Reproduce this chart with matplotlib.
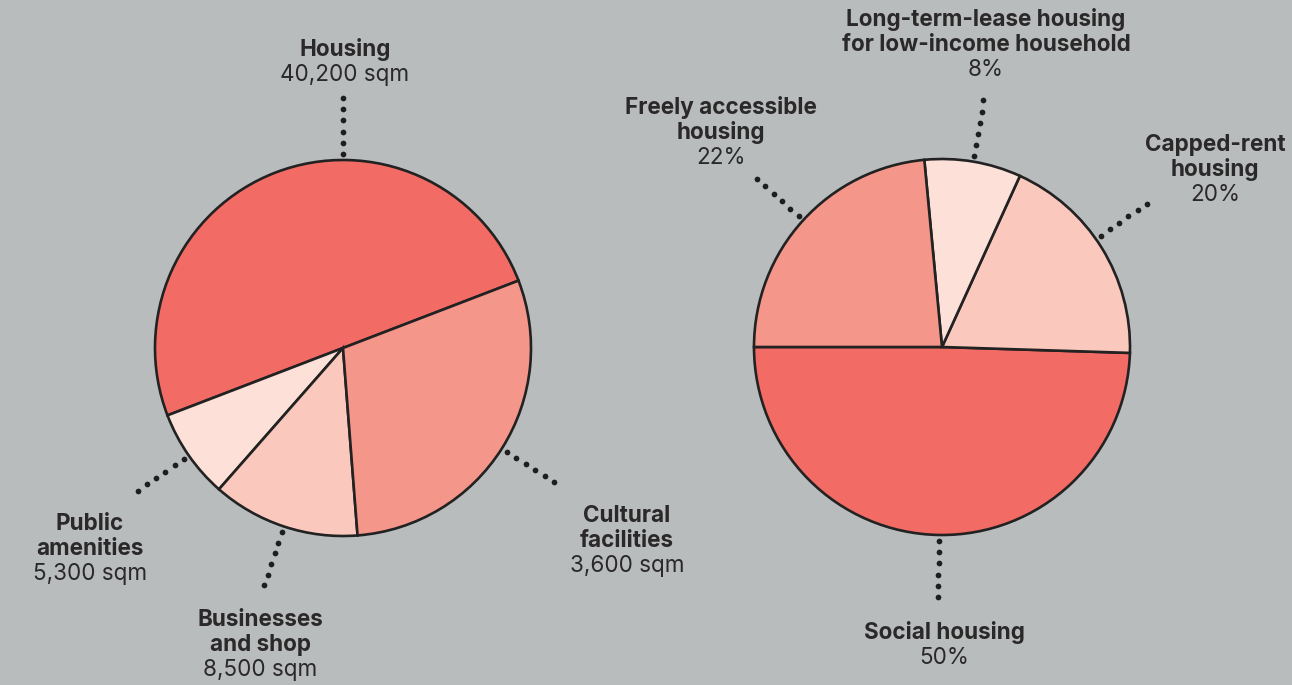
import numpy as np
import matplotlib.pyplot as plt

# Datos del grafico izquierdo (superficies) y derecho (tipos de vivienda)
usos_nombres = ['Housing', 'Public\namenities', 'Businesses\nand shop', 'Cultural\nfacilities']
usos_textos = ['40,200 sqm', '5,300 sqm', '8,500 sqm', '3,600 sqm']
usos_partes = [50.0, 7.7, 12.7, 29.6]
usos_colores = ['#f26b64', '#fde0d8', '#fac8bd', '#f5968a']

vivienda_nombres = ['Social housing', 'Capped-rent\nhousing',
                    'Long-term-lease housing\nfor low-income household',
                    'Freely accessible\nhousing']
vivienda_pct = [50, 20, 8, 22]
vivienda_partes = [49.5, 18.7, 8.3, 23.5]   # tamaño de los sectores tal como se ven
vivienda_colores = ['#f26b64', '#fac8bd', '#fde0d8', '#f5968a']

FONDO = '#b9bcbd'
TINTA = '#2a2828'
ALTO = 685
RADIO = 188
SALTO = 25  # separacion entre lineas de texto (px)
TAM = 16.2

plt.rcParams['font.family'] = ['Inter', 'DejaVu Sans']

fig = plt.figure(figsize=(12.92, 6.85), dpi=100, facecolor=FONDO)
ax = fig.add_axes([0, 0, 1, 1])
ax.set_facecolor(FONDO)


def dibujar_torta(centro, valores, colores, inicio):
    cuñas, _ = ax.pie(valores, colors=colores, startangle=inicio, counterclock=True,
                      center=centro, radius=RADIO,
                      wedgeprops=dict(edgecolor='#222222', linewidth=1.9))
    return cuñas


def puntos_guia(centro, angulo):
    r = np.linspace(194, 250, 6)
    a = np.deg2rad(angulo)
    ax.scatter(centro[0] + r * np.cos(a), centro[1] + r * np.sin(a),
               s=17, color='#1e1e1e', zorder=5, linewidths=0)


def etiqueta(x, y_base, nombre, valor):
    # y_base: linea base del valor, medida desde arriba de la imagen
    lineas = nombre.split('\n')
    for i, linea in enumerate(lineas):
        y = y_base - SALTO * (len(lineas) - i)
        ax.text(x, ALTO - y, linea, ha='center', va='baseline', fontsize=TAM,
                fontweight='bold', color=TINTA)
    ax.text(x, ALTO - y_base, valor, ha='center', va='baseline', fontsize=TAM,
            color=TINTA)


# Torta izquierda
centro_izq = (343, ALTO - 348)
cuñas = dibujar_torta(centro_izq, usos_partes, usos_colores, 21)
angulos_izq = [90] + [(c.theta1 + c.theta2) / 2 for c in cuñas[1:]]
for ang in angulos_izq:
    puntos_guia(centro_izq, ang)

pos_izq = [(345, 81), (90, 580), (260, 676), (627, 572)]
for (x, y), nombre, texto in zip(pos_izq, usos_nombres, usos_textos):
    etiqueta(x, y, nombre, texto)

# Torta derecha
centro_der = (942, ALTO - 347)
cuñas = dibujar_torta(centro_der, vivienda_partes, vivienda_colores, 180)
angulos_der = [(c.theta1 + c.theta2) / 2 for c in cuñas]
angulos_der[1] = 35
for ang in angulos_der:
    puntos_guia(centro_der, ang)

pos_der = [(944, 664), (1215, 201), (986, 76), (721, 164)]
for (x, y), nombre, pct in zip(pos_der, vivienda_nombres, vivienda_pct):
    etiqueta(x, y, nombre, f'{pct}%')

# pie() cambia los limites, se fijan al final
ax.set_xlim(0, 1292)
ax.set_ylim(0, ALTO)
ax.set_aspect('equal')
ax.axis('off')

fig.savefig('out.png', dpi=100, facecolor=FONDO)
